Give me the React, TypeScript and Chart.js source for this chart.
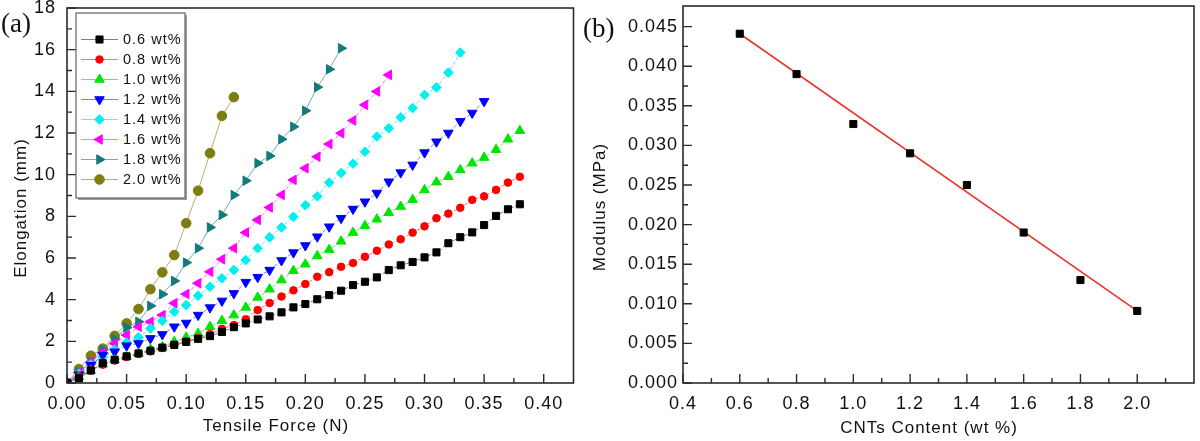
import React, { useEffect, useRef } from 'react';
import { Chart, registerables } from 'chart.js';
import { drawPoint } from 'chart.js/helpers';

Chart.register(...registerables);

const SANS = "'Liberation Sans', Arial, sans-serif";
const SERIF = "'Liberation Serif', 'Times New Roman', serif";

// ---------- Panel (a): elongation vs tensile force ----------
const tensileForce = [
  0, 0.01, 0.02, 0.03, 0.04, 0.05, 0.06, 0.07, 0.08, 0.09, 0.1, 0.11, 0.12, 0.13,
  0.14, 0.15, 0.16, 0.17, 0.18, 0.19, 0.2, 0.21, 0.22, 0.23, 0.24, 0.25, 0.26,
  0.27, 0.28, 0.29, 0.3, 0.31, 0.32, 0.33, 0.34, 0.35, 0.36, 0.37, 0.38,
];
const elong06 = [
  0, 0.22, 0.6, 0.95, 1.12, 1.28, 1.42, 1.55, 1.7, 1.83, 1.97, 2.12, 2.25, 2.45,
  2.68, 2.86, 3.05, 3.2, 3.39, 3.63, 3.79, 4.02, 4.22, 4.43, 4.7, 4.86, 5.07,
  5.42, 5.65, 5.81, 6.03, 6.27, 6.71, 7.0, 7.23, 7.58, 8.02, 8.34, 8.58,
];
const elong08 = [
  0, 0.3, 0.6, 0.88, 1.08, 1.25, 1.4, 1.52, 1.68, 1.83, 2.0, 2.15, 2.35, 2.6,
  2.78, 3.06, 3.5, 3.84, 4.15, 4.45, 4.75, 5.1, 5.32, 5.58, 5.76, 6.06, 6.35,
  6.65, 6.9, 7.22, 7.52, 7.91, 8.13, 8.41, 8.79, 8.96, 9.27, 9.62, 9.9,
];
const elong10 = [
  0, 0.3, 0.6, 0.9, 1.1, 1.26, 1.42, 1.62, 1.74, 1.98, 2.19, 2.38, 2.7, 2.99,
  3.26, 3.63, 4.11, 4.5, 4.94, 5.39, 5.7, 6.1, 6.4, 6.8, 7.22, 7.55, 7.86, 8.17,
  8.47, 8.8, 9.27, 9.64, 9.9, 10.23, 10.55, 10.82, 11.2, 11.7, 12.11,
];
const elong12 = [
  0, 0.4, 0.85, 1.34, 1.5, 1.79, 1.9, 2.14, 2.33, 2.7, 2.88, 3.26, 3.62, 3.94,
  4.3, 4.84, 5.08, 5.42, 5.88, 6.26, 6.6, 7.02, 7.5, 7.91, 8.35, 8.7, 9.12, 9.66,
  10.1, 10.47, 11.06, 11.58, 12.0, 12.56, 12.96, 13.52,
];
const elong14 = [
  0, 0.45, 0.9, 1.25, 1.6, 1.95, 2.19, 2.62, 2.99, 3.42, 3.74, 4.19, 4.62, 5.03,
  5.42, 5.9, 6.47, 6.99, 7.47, 7.98, 8.53, 8.96, 9.62, 10.08, 10.53, 11.1, 11.83,
  12.23, 12.75, 13.2, 13.83, 14.19, 14.9, 15.86,
];
const elong16 = [
  0, 0.5, 1.0, 1.45, 1.9, 2.3, 2.7, 2.94, 3.26, 3.83, 4.27, 4.79, 5.34, 5.94,
  6.47, 7.22, 7.83, 8.43, 9.03, 9.75, 10.31, 10.86, 11.47, 11.99, 12.6, 13.35,
  13.99, 14.79,
];
const elong18 = [
  0, 0.5, 1.0, 1.6, 2.1, 2.66, 2.94, 3.7, 4.26, 4.9, 5.78, 6.47, 7.47, 8.07,
  9.02, 9.71, 10.55, 10.9, 11.7, 12.3, 13.07, 14.2, 15.06, 16.07,
];
const elong20 = [
  0, 0.67, 1.31, 1.65, 2.26, 2.86, 3.55, 4.5, 5.31, 6.14, 7.67, 9.23, 11.03,
  12.82, 13.72,
];
const seriesLabels = ['0.6 wt%', '0.8 wt%', '1.0 wt%', '1.2 wt%', '1.4 wt%', '1.6 wt%', '1.8 wt%', '2.0 wt%'];
const seriesValues = [elong06, elong08, elong10, elong12, elong14, elong16, elong18, elong20];

const forceTicks = [0, 0.05, 0.1, 0.15, 0.2, 0.25, 0.3, 0.35, 0.4];
const elongTicks = [0, 2, 4, 6, 8, 10, 12, 14, 16, 18];

// ---------- Panel (b): modulus vs CNT content ----------
const cntContent = [0.6, 0.8, 1.0, 1.2, 1.4, 1.6, 1.8, 2.0];
const modulus = [0.0441, 0.039, 0.0327, 0.029, 0.025, 0.019, 0.013, 0.0091];
const fitContent = [0.6, 2.0];
const fitModulus = [0.0441, 0.0091];
const contentTicks = [0.4, 0.6, 0.8, 1.0, 1.2, 1.4, 1.6, 1.8, 2.0];
const modulusTicks = [0, 0.005, 0.01, 0.015, 0.02, 0.025, 0.03, 0.035, 0.04, 0.045];

// ---------- styles ----------
const seriesStyles = [
  { color: '#000000', line: 'rgba(60,60,60,0.65)', style: 'rect', rot: 0, r: 5, dash: [4, 2] },
  { color: '#ff0000', line: 'rgba(255,60,60,0.7)', style: 'circle', rot: 0, r: 3.8, dash: [4, 2] },
  { color: '#00e600', line: 'rgba(40,220,40,0.7)', style: 'triangle', rot: 0, r: 5.5, dash: [4, 2] },
  { color: '#0000ff', line: 'rgba(70,70,255,0.7)', style: 'triangle', rot: 180, r: 5.5, dash: [4, 2] },
  { color: '#00f0f0', line: 'rgba(40,230,230,0.75)', style: 'rectRot', rot: 0, r: 4.8, dash: [4, 2] },
  { color: '#ff00ff', line: 'rgba(255,60,255,0.7)', style: 'triangle', rot: 270, r: 5.5, dash: [4, 2] },
  { color: '#157a7a', line: 'rgba(60,150,150,0.75)', style: 'triangle', rot: 90, r: 5.5, dash: [] },
  { color: '#7d7d12', line: 'rgba(170,170,90,0.9)', style: 'circle', rot: 0, r: 4.8, dash: [] },
];

function minorsOf(majors: number[], max: number, min: number) {
  const out: number[] = [];
  for (let i = 0; i < majors.length - 1; i++) out.push((majors[i] + majors[i + 1]) / 2);
  const step = majors[1] - majors[0];
  const extra = majors[majors.length - 1] + step / 2;
  if (extra < max - 0.02 * (max - min)) out.push(extra);
  return out;
}

function fixFit(size: 'width' | 'height', v: number) {
  return (s: any) => {
    s[size] = v;
    s.paddingTop = 0;
    s.paddingBottom = 0;
    s.paddingLeft = 0;
    s.paddingRight = 0;
  };
}

type Deco = {
  xMajors: number[];
  yMajors: number[];
  xTitle: string;
  yTitle: string;
  xTitlePos: [number, number];
  yTitlePos: [number, number];
  panel: string;
  panelPos: [number, number];
  legend: boolean;
};

function decorPlugin(d: Deco) {
  return {
    id: 'decor',
    beforeDraw(chart: any) {
      const c = chart.ctx;
      c.save();
      c.fillStyle = '#ffffff';
      c.fillRect(0, 0, chart.width, chart.height);
      c.restore();
      c.letterSpacing = '1px';
    },
    afterDraw(chart: any) {
      const c = chart.ctx as CanvasRenderingContext2D;
      const { left, right, top, bottom } = chart.chartArea;
      const xs = chart.scales.x;
      const ys = chart.scales.y;
      c.save();
      // frame
      c.strokeStyle = '#2b2b2b';
      c.lineWidth = 1.6;
      c.strokeRect(left, top, right - left, bottom - top);
      // inward ticks
      c.lineWidth = 1.4;
      c.beginPath();
      const xMin = minorsOf(d.xMajors, xs.max, xs.min);
      const yMin = minorsOf(d.yMajors, ys.max, ys.min);
      d.xMajors.forEach((v) => {
        const p = xs.getPixelForValue(v);
        c.moveTo(p, bottom);
        c.lineTo(p, bottom - 9);
      });
      xMin.forEach((v) => {
        const p = xs.getPixelForValue(v);
        c.moveTo(p, bottom);
        c.lineTo(p, bottom - 5);
      });
      d.yMajors.forEach((v) => {
        const p = ys.getPixelForValue(v);
        c.moveTo(left, p);
        c.lineTo(left + 9, p);
      });
      yMin.forEach((v) => {
        const p = ys.getPixelForValue(v);
        c.moveTo(left, p);
        c.lineTo(left + 5, p);
      });
      c.stroke();

      // axis titles
      c.fillStyle = '#111';
      c.font = `17px ${SANS}`;
      (c as any).letterSpacing = '1px';
      c.textAlign = 'center';
      c.textBaseline = 'middle';
      c.fillText(d.xTitle, d.xTitlePos[0], d.xTitlePos[1]);
      c.save();
      c.translate(d.yTitlePos[0], d.yTitlePos[1]);
      c.rotate(-Math.PI / 2);
      c.fillText(d.yTitle, 0, 0);
      c.restore();

      // panel label
      (c as any).letterSpacing = '0px';
      c.font = `27px ${SERIF}`;
      c.textAlign = 'left';
      c.textBaseline = 'alphabetic';
      c.fillText(d.panel, d.panelPos[0], d.panelPos[1]);

      // legend
      if (d.legend) {
        const lx = 76, ly = 13, lw = 109, lh = 185;
        c.fillStyle = '#9a9a9a';
        c.fillRect(lx + 2, ly + 2, lw, lh);
        c.fillStyle = '#ffffff';
        c.fillRect(lx, ly, lw, lh);
        c.strokeStyle = '#6e6e6e';
        c.lineWidth = 1.3;
        c.strokeRect(lx, ly, lw, lh);
        c.font = `14.5px ${SANS}`;
        (c as any).letterSpacing = '1px';
        c.textBaseline = 'middle';
        chart.data.datasets.forEach((ds: any, i: number) => {
          const cy = 39.5 + i * 20;
          c.strokeStyle = ds.borderColor;
          c.lineWidth = 1;
          c.setLineDash([]);
          c.beginPath();
          c.moveTo(81, cy);
          c.lineTo(118, cy);
          c.stroke();
          c.fillStyle = ds.pointBackgroundColor;
          c.strokeStyle = ds.pointBorderColor;
          c.lineWidth = 1;
          drawPoint(c, { pointStyle: ds.pointStyle, rotation: ds.pointRotation, radius: ds.pointRadius, borderWidth: 1 } as any, 99.5, cy);
          c.fillStyle = '#111';
          c.fillText(ds.label, 123, cy + 0.5);
        });
      }
      c.restore();
    },
  };
}

function leftConfig(): any {
  const datasets = seriesValues.map((vals, i) => {
    const s = seriesStyles[i];
    return {
      label: seriesLabels[i],
      data: vals.map((v, j) => ({ x: tensileForce[j], y: v })),
      borderColor: s.line,
      borderWidth: 1,
      borderDash: s.dash,
      pointStyle: s.style,
      pointRotation: s.rot,
      pointRadius: s.r,
      pointHoverRadius: s.r,
      pointBackgroundColor: s.color,
      pointBorderColor: s.color,
      pointBorderWidth: 1,
      fill: false,
      tension: 0,
    };
  });
  return {
    type: 'line',
    data: { datasets },
    options: {
      responsive: false,
      animation: false,
      devicePixelRatio: 1,
      events: [],
      layout: { padding: { left: 0, top: 8, right: 5, bottom: 0 } },
      plugins: { legend: { display: false }, tooltip: { enabled: false } },
      scales: {
        x: {
          type: 'linear',
          min: 0,
          max: 0.425,
          grid: { display: false, drawTicks: false },
          border: { display: false },
          afterBuildTicks: (s: any) => {
            s.ticks = forceTicks.map((v) => ({ value: v }));
          },
          afterFit: fixFit('height', 58),
          ticks: {
            callback: (v: any) => Number(v).toFixed(2),
            padding: 10,
            autoSkip: false,
            maxRotation: 0,
            color: '#111',
            font: { family: SANS, size: 18 },
          },
        },
        y: {
          type: 'linear',
          min: 0,
          max: 18,
          grid: { display: false, drawTicks: false },
          border: { display: false },
          afterBuildTicks: (s: any) => {
            s.ticks = elongTicks.map((v) => ({ value: v }));
          },
          afterFit: fixFit('width', 67),
          ticks: {
            callback: (v: any) => String(Math.round(Number(v))),
            padding: 11,
            autoSkip: false,
            color: '#111',
            font: { family: SANS, size: 18 },
          },
        },
      },
    },
    plugins: [
      decorPlugin({
        xMajors: forceTicks,
        yMajors: elongTicks,
        xTitle: 'Tensile Force (N)',
        yTitle: 'Elongation (mm)',
        xTitlePos: [276, 426],
        yTitlePos: [21, 208],
        panel: '(a)',
        panelPos: [1, 32],
        legend: true,
      }),
    ],
  };
}

function rightConfig(): any {
  return {
    type: 'line',
    data: {
      datasets: [
        {
          label: 'Modulus',
          data: cntContent.map((x, i) => ({ x, y: modulus[i] })),
          showLine: false,
          pointStyle: 'rect',
          pointRadius: 5,
          pointHoverRadius: 5,
          pointBackgroundColor: '#000',
          pointBorderColor: '#000',
          pointBorderWidth: 1,
        },
        {
          label: 'Linear fit',
          data: fitContent.map((x, i) => ({ x, y: fitModulus[i] })),
          borderColor: '#e8352d',
          borderWidth: 1.6,
          pointRadius: 0,
          fill: false,
          tension: 0,
        },
      ],
    },
    options: {
      responsive: false,
      animation: false,
      devicePixelRatio: 1,
      events: [],
      layout: { padding: { left: 0, top: 5, right: 3, bottom: 0 } },
      plugins: { legend: { display: false }, tooltip: { enabled: false } },
      scales: {
        x: {
          type: 'linear',
          min: 0.4,
          max: 2.2,
          grid: { display: false, drawTicks: false },
          border: { display: false },
          afterBuildTicks: (s: any) => {
            s.ticks = contentTicks.map((v) => ({ value: v }));
          },
          afterFit: fixFit('height', 58),
          ticks: {
            callback: (v: any) => Number(v).toFixed(1),
            padding: 10,
            autoSkip: false,
            maxRotation: 0,
            color: '#111',
            font: { family: SANS, size: 18 },
          },
        },
        y: {
          type: 'linear',
          min: 0,
          max: 0.0476,
          grid: { display: false, drawTicks: false },
          border: { display: false },
          afterBuildTicks: (s: any) => {
            s.ticks = modulusTicks.map((v) => ({ value: v }));
          },
          afterFit: fixFit('width', 103),
          ticks: {
            callback: (v: any) => Number(v).toFixed(3),
            padding: 5,
            autoSkip: false,
            color: '#111',
            font: { family: SANS, size: 18 },
          },
        },
      },
    },
    plugins: [
      decorPlugin({
        xMajors: contentTicks,
        yMajors: modulusTicks,
        xTitle: 'CNTs Content (wt %)',
        yTitle: 'Modulus (MPa)',
        xTitlePos: [349, 428],
        yTitlePos: [20, 207],
        panel: '(b)',
        panelPos: [3, 37],
        legend: false,
      }),
    ],
  };
}

function ChartCanvas(props: { left: number; width: number; height: number; build: () => any }) {
  const ref = useRef<HTMLCanvasElement>(null);
  useEffect(() => {
    const chart = new Chart(ref.current as HTMLCanvasElement, props.build());
    return () => chart.destroy();
  }, []);
  return (
    <canvas
      ref={ref}
      width={props.width}
      height={props.height}
      style={{ position: 'absolute', left: props.left, top: 0, width: props.width, height: props.height, display: 'block' }}
    />
  );
}

export default function App() {
  return (
    <div style={{ position: 'absolute', left: 0, top: 0, width: 1200, height: 441, background: '#fff', overflow: 'hidden' }}>
      <ChartCanvas left={0} width={580} height={441} build={leftConfig} />
      <ChartCanvas left={580} width={620} height={441} build={rightConfig} />
    </div>
  );
}
